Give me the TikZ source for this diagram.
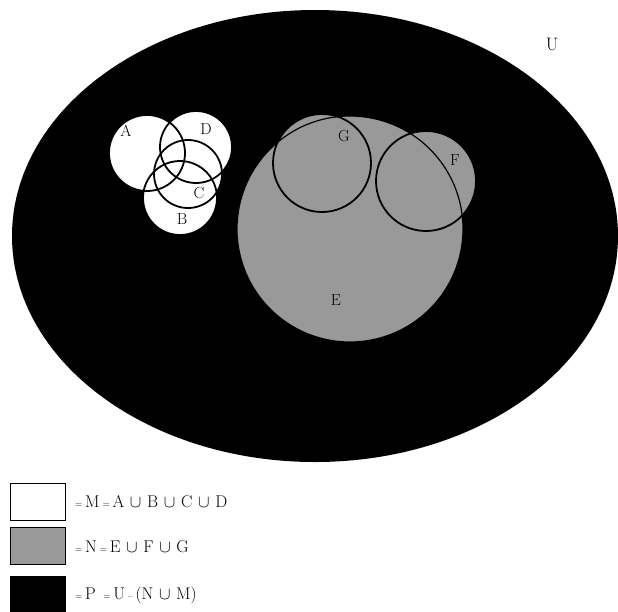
\documentclass[tikz,border=0pt]{standalone}
\begin{document}
\begin{tikzpicture}[x=1pt,y=-1pt,
  setline/.style={draw=black,line width=1.8pt},
  lbl/.style={font=\fontsize{16}{18}\selectfont,inner sep=0pt},
  legbox/.style={draw=black,line width=1.4pt,minimum width=55pt,minimum height=37pt,inner sep=0pt},
  legtxt/.style={font=\fontsize{17}{20}\selectfont,anchor=west,inner sep=0pt}]
\useasboundingbox (0,0) rectangle (618,611);
% universe
\fill[black] (315,236) ellipse [x radius=303, y radius=226];
% white sets
\foreach \c/\r in {{(147,153)}/38,{(196,147)}/36,{(188,174)}/34,{(180,198)}/37}
  \fill[white] \c circle [radius=\r];
% grey sets
\foreach \c/\r in {{(350,229)}/113,{(322,163)}/49,{(426,181)}/50}
  \fill[gray!80] \c circle [radius=\r];
% outlines
\draw[setline] (147,153) circle [radius=38];
\draw[setline] (196,147) circle [radius=36];
\draw[setline] (188,174) circle [radius=34];
\draw[setline] (180,198) circle [radius=37];
\draw[line width=1.2pt] (350,229) circle [radius=113];
\draw[setline] (322,163) circle [radius=49];
\draw[setline] (426,181) circle [radius=50];
% labels
\node[lbl] (lA) at (126,131) {A};
\node[lbl] (lD) at (206,129) {D};
\node[lbl] (lC) at (199,193) {C};
\node[lbl] (lB) at (182,219) {B};
\node[lbl] (lG) at (344,136) {G};
\node[lbl] (lF) at (455,160) {F};
\node[lbl] (lE) at (336,300) {E};
\node[lbl,font=\fontsize{18}{20}\selectfont] (lU) at (552,44) {U};
% legend
\node[legbox,fill=white] (b1) at (38,502) {};
\node[legbox,fill=gray!80] (b2) at (38,546) {};
\node[legbox,fill=black] (b3) at (38,595) {};
\node[legtxt] (t1) at (75,502) {{\small=}\,M\,{\small=}\,A\,\,$\cup$\,\,B\,\,$\cup$\,\,C\,\,$\cup$\,\,D};
\node[legtxt] (t2) at (75,547) {{\small=}\,N\,{\small=}\,E\,\,$\cup$\,\,F\,\,$\cup$\,\,G};
\node[legtxt] (t3) at (75,595) {{\small=}\,P\;\,{\small=}\,U\,{\small--}\,(N\,\,$\cup$\,\,M)};
\end{tikzpicture}
\end{document}
